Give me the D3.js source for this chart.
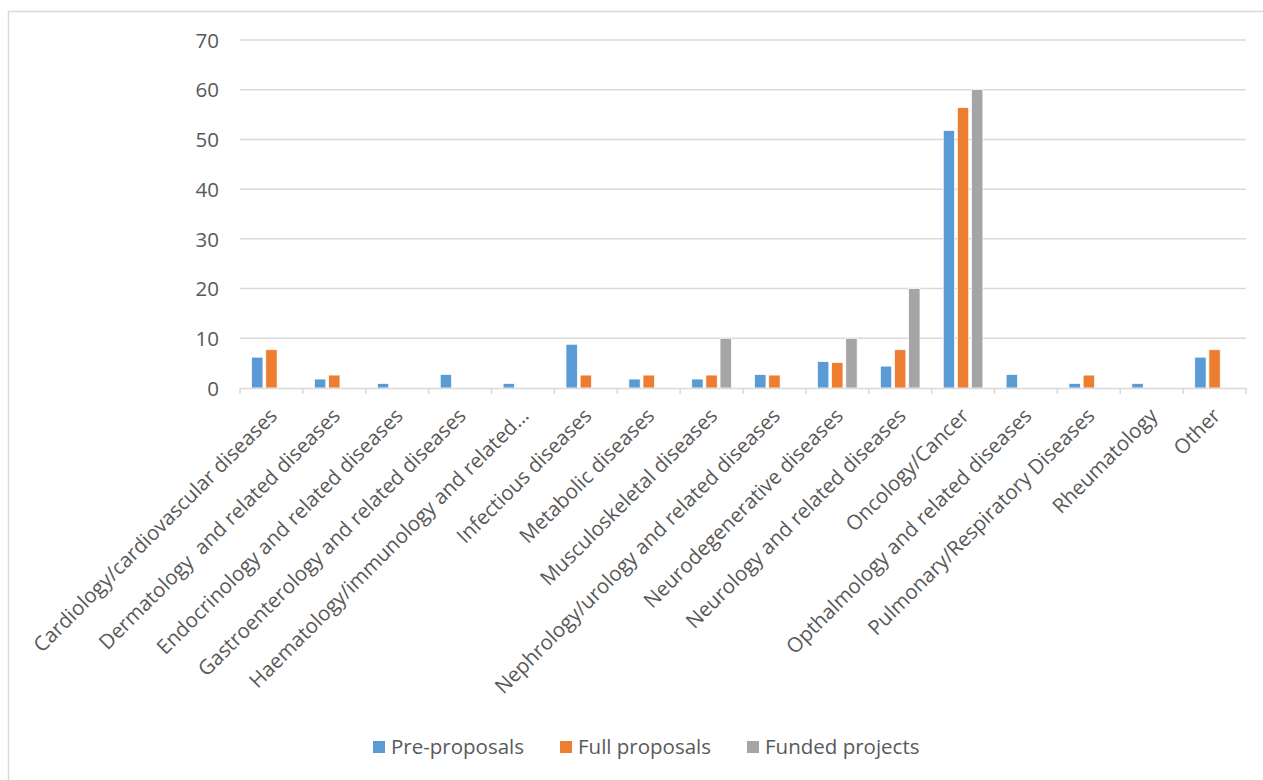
<!DOCTYPE html>
<html><head><meta charset="utf-8">
<script src="https://cdn.jsdelivr.net/npm/d3@7"></script>
<style>body{margin:0;background:#fff;}svg{display:block;}</style>
</head><body>
<svg id="c" width="1263" height="780"></svg>
<script>
const categories = ["Cardiology/cardiovascular diseases","Dermatology  and related diseases","Endocrinology and related diseases","Gastroenterology and related diseases","Haematology/immunology and related\u2026","Infectious diseases","Metabolic diseases","Musculoskeletal diseases","Nephrology/urology and related diseases","Neurodegenerative diseases","Neurology and related diseases","Oncology/Cancer","Opthalmology and related diseases","Pulmonary/Respiratory Diseases","Rheumatology","Other"];
const seriesNames = ["Pre-proposals","Full proposals","Funded projects"];
const preProposals = [6.2,1.8,0.9,2.7,0.9,8.8,1.8,1.8,2.7,5.3,4.4,51.8,2.7,0.9,0.9,6.2];
const fullProposals = [7.7,2.6,0,0,0,2.6,2.6,2.6,2.6,5.1,7.7,56.4,0,2.6,0,7.7];
const fundedProjects = [0,0,0,0,0,0,0,10,0,10,20,60,0,0,0,0];
const yTicks = [0,10,20,30,40,50,60,70];
const colors = ["#5B9BD5","#ED7D31","#A5A5A5"];

(function(){
const values = [preProposals, fullProposals, fundedProjects];
const svg = d3.select("#c");
const font = "'Open Sans', sans-serif";
const txt = "#595959";
const fs = 20.5;

// frame
svg.append("line").attr("x1",8).attr("x2",1263).attr("y1",11.5).attr("y2",11.5).attr("stroke","#d9d9d9").attr("stroke-width",1.5);
svg.append("line").attr("x1",8.5).attr("x2",8.5).attr("y1",11).attr("y2",780).attr("stroke","#d9d9d9").attr("stroke-width",1.5);

const pL = 240, pR = 1246, pT = 40, pB = 388;
const y = d3.scaleLinear().domain([0,70]).range([pB, pT]);
const x0 = d3.scaleBand().domain(categories).range([pL,pR]).paddingInner(0.37).paddingOuter(0.185);
const x1 = d3.scaleBand().domain(seriesNames).range([0,x0.bandwidth()]).paddingInner(0.2);
const step = x0.step();

// gridlines
svg.append("g").selectAll("line").data(yTicks.filter(d=>d>0)).join("line")
  .attr("x1",pL).attr("x2",pR).attr("y1",d=>y(d)).attr("y2",d=>y(d))
  .attr("stroke","#d9d9d9").attr("stroke-width",1.5);

// y labels
const yAxis = d3.axisLeft(y).tickValues(yTicks).tickSize(0).tickPadding(0);
const gy = svg.append("g").attr("transform",`translate(${pL-21},0)`).call(yAxis);
gy.select(".domain").remove();
gy.selectAll("text").attr("font-family",font).attr("font-size",fs).attr("fill",txt).attr("dy","0.35em");

// bars
const g = svg.append("g");
categories.forEach((c,i)=>{
  seriesNames.forEach((s,j)=>{
    const v = values[j][i];
    if (v<=0) return;
    g.append("rect").attr("x",x0(c)+x1(s)).attr("width",x1.bandwidth())
      .attr("y",y(v)).attr("height",y(0)-y(v))
      .attr("fill",colors[j]).attr("stroke","#fff").attr("stroke-width",0.7);
  });
});

// x axis line and ticks
svg.append("line").attr("x1",pL).attr("x2",pR).attr("y1",pB+0.5).attr("y2",pB+0.5).attr("stroke","#d9d9d9").attr("stroke-width",1.5);
const tickPos = d3.range(categories.length+1).map(i=>pL + i*step);
svg.append("g").selectAll("line").data(tickPos).join("line")
  .attr("x1",d=>d).attr("x2",d=>d).attr("y1",pB).attr("y2",pB+6)
  .attr("stroke","#d9d9d9").attr("stroke-width",1.5);

// x labels
svg.append("g").selectAll("text").data(categories).join("text")
  .attr("transform",d=>`translate(${x0(d)+x0.bandwidth()/2+7},${pB+29}) rotate(-45)`)
  .attr("text-anchor","end").style("white-space","pre")
  .attr("font-family",font).attr("font-size",fs).attr("fill",txt)
  .text(d=>d);

// legend
const legX = [373,560,747];
const lg = svg.append("g");
seriesNames.forEach((s,j)=>{
  lg.append("rect").attr("x",legX[j]).attr("y",741).attr("width",12).attr("height",12).attr("fill",colors[j]);
  lg.append("text").attr("x",legX[j]+18).attr("y",747).attr("dy","0.35em")
    .attr("font-family",font).attr("font-size",fs).attr("fill",txt).text(s);
});
})();
</script>
</body></html>
